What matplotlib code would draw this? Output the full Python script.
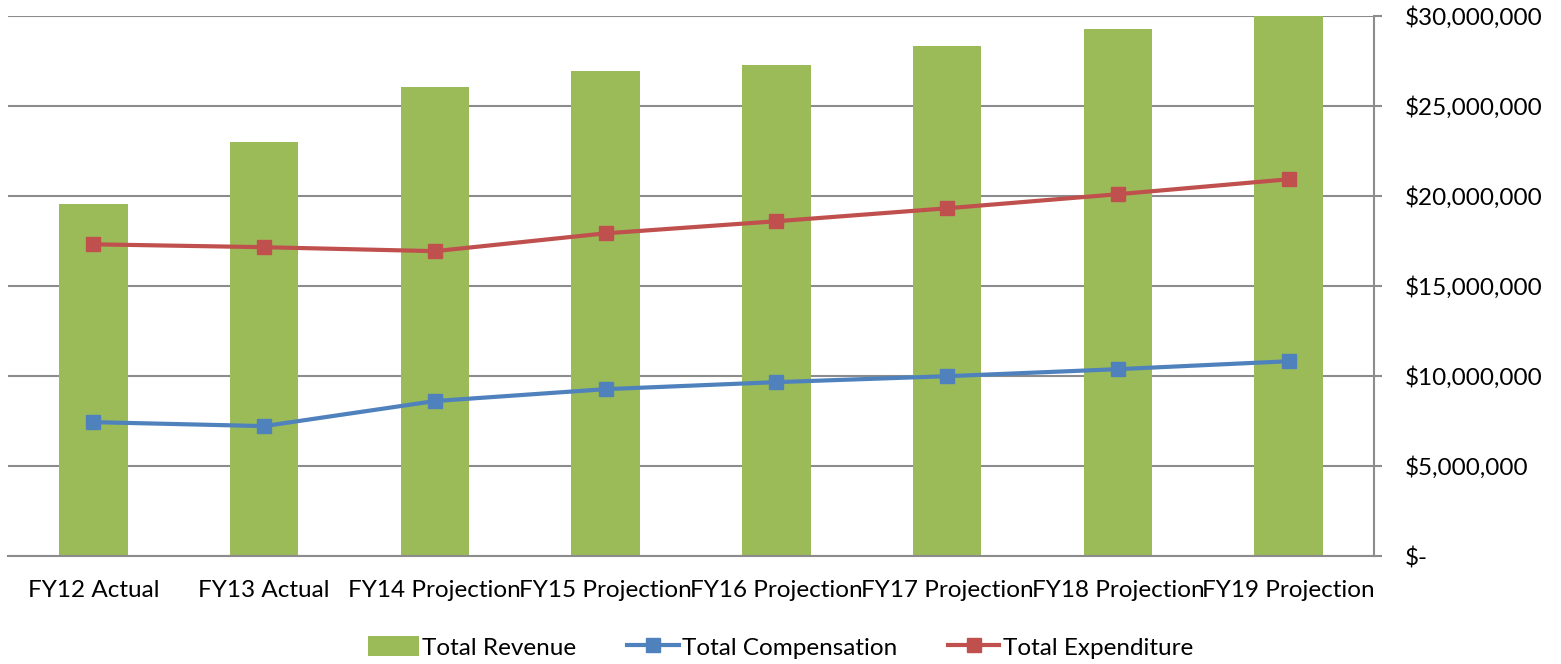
import matplotlib
matplotlib.use("Agg")
import matplotlib.pyplot as plt
from matplotlib.ticker import FuncFormatter, MultipleLocator

plt.rcParams['font.family'] = ['Lato', 'DejaVu Sans']

categories = ["FY12 Actual", "FY13 Actual", "FY14 Projection", "FY15 Projection",
              "FY16 Projection", "FY17 Projection", "FY18 Projection", "FY19 Projection"]
total_revenue = [19.52e6, 22.96e6, 26.01e6, 26.90e6, 27.23e6, 28.29e6, 29.23e6, 30.00e6]
total_compensation = [7.43e6, 7.21e6, 8.60e6, 9.26e6, 9.65e6, 9.98e6, 10.37e6, 10.81e6]
total_expenditure = [17.30e6, 17.14e6, 16.92e6, 17.91e6, 18.58e6, 19.30e6, 20.08e6, 20.91e6]

green = "#9BBB59"
blue = "#4F81BD"
red = "#C0504D"
grid = "#8C8C8C"

fig = plt.figure(figsize=(15.61, 6.64), dpi=100)
ax = fig.add_axes([8 / 1561, 1 - 556 / 664, (1374 - 8) / 1561, (556 - 15.5) / 664])

x = list(range(len(categories)))
bars = ax.bar(x, total_revenue, width=0.4, color=green, label="Total Revenue", zorder=2)
comp_line, = ax.plot(x, total_compensation, color=blue, lw=3, marker="s", ms=10.5,
                     label="Total Compensation", zorder=3)
exp_line, = ax.plot(x, total_expenditure, color=red, lw=3, marker="s", ms=10.5,
                    label="Total Expenditure", zorder=3)

ax.set_xlim(-0.5, len(categories) - 0.5)
ax.set_ylim(0, 30e6)
ax.yaxis.set_major_locator(MultipleLocator(5e6))


def money(v, _):
    if v == 0:
        return "$-"
    return "${:,.0f}".format(v)


ax.yaxis.set_major_formatter(FuncFormatter(money))
ax.yaxis.tick_right()
ax.tick_params(axis="y", direction="out", length=6, width=1.5, color=grid,
               labelsize=17.5, pad=16)
ax.tick_params(axis="x", length=0, labelsize=17.5, pad=17)
ax.set_xticks(x)
ax.set_xticklabels(categories)

for side in ("top", "left"):
    ax.spines[side].set_visible(False)
for side in ("right", "bottom"):
    ax.spines[side].set_color(grid)
    ax.spines[side].set_linewidth(1.5)

ax.grid(axis="y", color=grid, lw=1.5, zorder=1)
ax.set_axisbelow(True)

fig.legend([bars, comp_line, exp_line],
           ["Total Revenue", "Total Compensation", "Total Expenditure"],
           loc="lower center", bbox_to_anchor=(0.5, -0.025), ncol=3, frameon=False,
           fontsize=17.5, handlelength=2.1, handleheight=0.9, handletextpad=0.15,
           columnspacing=2.1)

fig.savefig("out.png", dpi=100)
